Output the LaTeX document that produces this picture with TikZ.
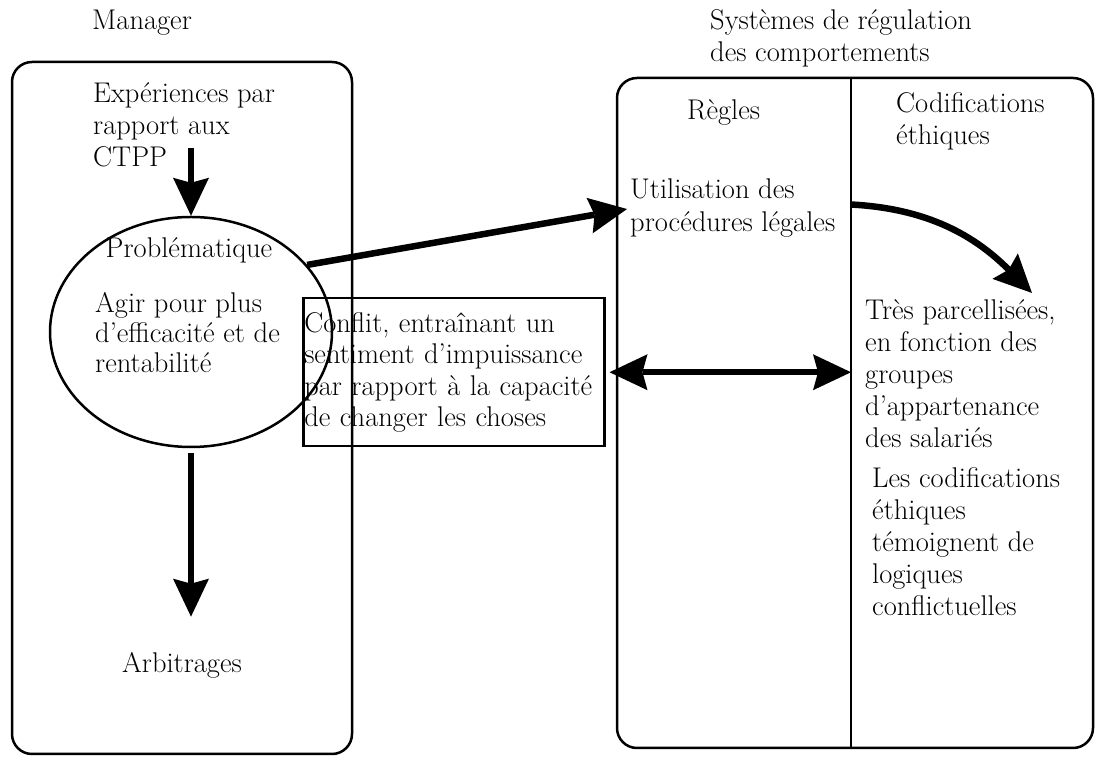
\documentclass[tikz,border=0pt]{standalone}
\usetikzlibrary{arrows.meta,positioning,shapes.geometric}

\begin{document}
\begin{tikzpicture}[x=1pt, y=1pt,
  >={Stealth[length=38pt, width=36pt, inset=5pt, line width=0pt]},
  txt/.style={anchor=base west, align=left, inner sep=0pt, font=\fontsize{28.5}{32}\selectfont},
  frame/.style={draw, line width=2.5pt, rounded corners=20pt},
  arrow/.style={->, line width=6.5pt},
  darrow/.style={<->, line width=6.5pt}]
\useasboundingbox (0,0) rectangle (1095,757);
% the two frames and the column rule
\draw[frame] (12,3) rectangle (352,695);
\draw[frame] (617,9) rectangle (1093,679);
\coordinate (divtop) at (851,679); \coordinate (divbot) at (851,9);
\draw[line width=1.3pt] (divtop) -- (divbot);
% multi-line nodes sit on the baseline of their last line
\node[txt] (mgr) at (92,727) {Manager};
\node[txt] (sys) at (710,695) {Systèmes de régulation\\des comportements};
% manager side
\node[txt] (exp) at (93,590) {Expériences par\\rapport aux\\CTPP};
\node[draw, ellipse, line width=2.5pt, inner sep=0pt, minimum width=282pt, minimum height=230pt] (prob) at (191,425) {};
\node[txt, anchor=base] (probt) at (189,499) {Problématique};
\node[txt, font=\fontsize{28.5}{30}\selectfont] (agir) at (95,384) {Agir pour plus\\d'efficacité et de\\rentabilité};
\node[txt, anchor=base] (arb) at (182,84) {Arbitrages};
\coordinate (ctpp) at (191,609);
\draw[arrow] (ctpp) -- (prob.north);
\draw[arrow, shorten <=5pt, shorten >=36pt] (prob.south) -- (prob.south |- arb.north);
\node[draw, line width=2.5pt, anchor=north west, minimum height=148pt, text width=299pt, inner xsep=1pt, align=left, font=\fontsize{28.5}{31.5}\selectfont] (conf) at (302,460) {Conflit, entraînant un\\sentiment d'impuissance\\par rapport à la capacité\\de changer les choses};
% regulation side
\node[txt] (regles) at (687,637) {Règles};
\node[txt] (codif) at (896,612) {Codifications\\éthiques};
\node[txt, font=\fontsize{28.5}{33}\selectfont] (util) at (630,525) {Utilisation des\\procédures légales};
\node[txt] (tres) at (865,309) {Très parcellisées,\\en fonction des\\groupes\\d'appartenance\\des salariés};
\node[txt] (logiq) at (872,141) {Les codifications\\éthiques\\témoignent de\\logiques\\conflictuelles};
\coordinate (ctip) at (1032,464);
\draw[arrow, shorten >=3pt] (prob.30) -- (util.west);
\draw[arrow] ([yshift=4pt]util.east -| divtop) to[out=-3, in=135] (ctip);
\draw[darrow, shorten <=4pt] (conf.east) -- (conf.east -| divtop);
\end{tikzpicture}
\end{document}
